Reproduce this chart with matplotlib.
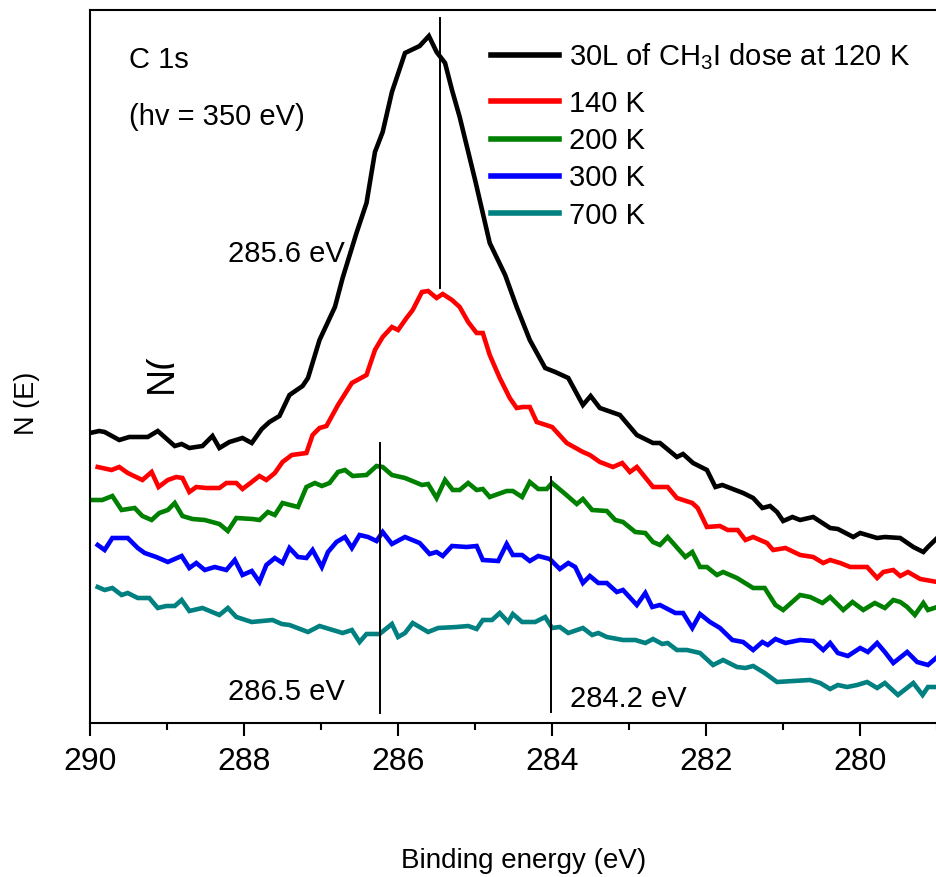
import matplotlib
matplotlib.use("Agg")
import matplotlib.pyplot as plt
from matplotlib.ticker import MultipleLocator
from matplotlib.transforms import Bbox

plt.rcParams['font.family'] = ['Liberation Sans', 'DejaVu Sans']
plt.rcParams['mathtext.fontset'] = 'custom'
plt.rcParams['mathtext.rm'] = 'Liberation Sans'
plt.rcParams['mathtext.it'] = 'Liberation Sans:italic'
plt.rcParams['mathtext.default'] = 'regular'

# ---------------- data (binding energy in eV, intensity in arb. units) -------------
e_120 = [290.00, 289.88, 289.81, 289.62, 289.49, 289.25, 289.12, 288.90, 288.81, 288.71,
         288.54, 288.41, 288.32, 288.19, 288.02, 287.90, 287.77, 287.67, 287.54, 287.41,
         287.24, 287.17, 287.02, 286.82, 286.72, 286.54, 286.41, 286.30, 286.20, 286.08,
         285.91, 285.72, 285.60, 285.50, 285.39, 285.30, 285.20, 285.00, 284.81, 284.61,
         284.46, 284.29, 284.09, 283.96, 283.79, 283.60, 283.50, 283.38, 283.12, 282.90,
         282.69, 282.60, 282.38, 282.30, 282.17, 281.99, 281.88, 281.79, 281.52, 281.39,
         281.27, 281.17, 281.08, 281.00, 280.88, 280.78, 280.61, 280.39, 280.29, 280.09,
         280.00, 279.78, 279.68, 279.48, 279.31, 279.18, 279.12, 279.00]
i_120 = [290, 292, 291, 283, 286, 286, 292, 277, 279, 275,
         277, 287, 275, 281, 285, 280, 294, 301, 307, 328,
         337, 345, 383, 416, 445, 490, 520, 571, 591, 631,
         670, 677, 687, 671, 660, 633, 606, 543, 480, 448,
         416, 383, 355, 351, 345, 318, 327, 315, 308, 288,
         280, 280, 266, 269, 260, 253, 236, 238, 230, 225,
         215, 217, 211, 202, 206, 203, 206, 195, 194, 186,
         190, 185, 186, 185, 176, 171, 176, 185]

e_140 = [289.90, 289.72, 289.62, 289.51, 289.32, 289.20, 289.11, 288.99, 288.88, 288.80,
         288.71, 288.62, 288.49, 288.32, 288.23, 288.10, 288.02, 287.90, 287.80, 287.71,
         287.60, 287.50, 287.38, 287.19, 287.11, 287.02, 286.93, 286.78, 286.60, 286.41,
         286.30, 286.20, 286.08, 286.00, 285.89, 285.81, 285.69, 285.61, 285.50, 285.42,
         285.30, 285.20, 285.09, 284.98, 284.90, 284.81, 284.68, 284.55, 284.46, 284.38,
         284.29, 284.20, 284.00, 283.81, 283.60, 283.51, 283.38, 283.21, 283.09, 282.99,
         282.90, 282.69, 282.50, 282.38, 282.18, 282.11, 281.99, 281.82, 281.72, 281.59,
         281.49, 281.39, 281.21, 281.13, 280.97, 280.78, 280.61, 280.48, 280.39, 280.26,
         280.13, 279.91, 279.78, 279.70, 279.57, 279.48, 279.38, 279.22, 279.00]
i_140 = [256, 253, 256, 250, 243, 251, 236, 243, 246, 245,
         231, 236, 235, 235, 240, 240, 234, 241, 247, 243,
         250, 261, 268, 270, 288, 295, 297, 318, 340, 348,
         373, 386, 396, 393, 405, 413, 431, 432, 425, 429,
         423, 416, 401, 390, 390, 368, 345, 325, 315, 316,
         316, 301, 296, 280, 271, 268, 261, 256, 260, 251,
         256, 236, 236, 225, 220, 215, 196, 197, 193, 193,
         183, 186, 180, 173, 175, 168, 166, 160, 163, 160,
         156, 156, 145, 151, 153, 147, 151, 144, 141]

e_200 = [290.00, 289.84, 289.71, 289.59, 289.42, 289.32, 289.20, 289.10, 288.99, 288.90,
         288.80, 288.67, 288.51, 288.32, 288.21, 288.10, 287.89, 287.80, 287.69, 287.60,
         287.50, 287.30, 287.19, 287.08, 286.99, 286.89, 286.78, 286.69, 286.59, 286.41,
         286.28, 286.20, 286.08, 285.91, 285.69, 285.61, 285.50, 285.39, 285.29, 285.20,
         285.09, 284.98, 284.90, 284.81, 284.59, 284.51, 284.39, 284.29, 284.18, 284.07,
         284.00, 283.83, 283.68, 283.60, 283.48, 283.29, 283.18, 283.08, 282.92, 282.79,
         282.69, 282.60, 282.50, 282.27, 282.18, 282.08, 281.99, 281.86, 281.78, 281.60,
         281.39, 281.24, 281.10, 281.00, 280.78, 280.65, 280.49, 280.39, 280.22, 280.10,
         279.96, 279.81, 279.68, 279.57, 279.48, 279.39, 279.29, 279.18, 279.12, 279.00]
i_200 = [223, 223, 227, 213, 215, 207, 203, 210, 213, 220,
         207, 204, 203, 199, 192, 205, 204, 203, 211, 208,
         220, 216, 236, 240, 237, 240, 251, 253, 247, 248,
         257, 256, 248, 245, 238, 239, 225, 243, 233, 233,
         240, 233, 234, 226, 232, 232, 226, 241, 234, 234,
         240, 229, 219, 224, 213, 212, 203, 201, 191, 190,
         181, 178, 186, 166, 171, 156, 156, 148, 151, 145,
         135, 135, 118, 113, 128, 126, 120, 126, 113, 121,
         113, 120, 115, 123, 121, 116, 108, 120, 113, 116]

e_300 = [289.90, 289.81, 289.71, 289.51, 289.38, 289.29, 289.14, 288.99, 288.81, 288.71,
         288.62, 288.51, 288.38, 288.23, 288.12, 288.02, 287.90, 287.80, 287.71, 287.60,
         287.50, 287.41, 287.30, 287.19, 287.11, 286.99, 286.91, 286.80, 286.69, 286.60,
         286.50, 286.39, 286.28, 286.20, 286.08, 285.91, 285.72, 285.59, 285.50, 285.42,
         285.30, 285.11, 284.98, 284.90, 284.70, 284.59, 284.51, 284.39, 284.29, 284.18,
         284.03, 283.90, 283.79, 283.70, 283.60, 283.51, 283.40, 283.29, 283.16, 283.08,
         282.90, 282.79, 282.70, 282.60, 282.40, 282.30, 282.18, 282.08, 281.95, 281.82,
         281.66, 281.52, 281.39, 281.27, 281.20, 281.10, 280.97, 280.78, 280.61, 280.48,
         280.39, 280.29, 280.16, 280.00, 279.90, 279.78, 279.68, 279.57, 279.39, 279.26,
         279.12, 279.00]
i_300 = [178, 173, 185, 185, 175, 170, 166, 161, 167, 155,
         160, 153, 156, 153, 163, 148, 152, 141, 158, 165,
         160, 175, 166, 165, 173, 156, 171, 181, 186, 175,
         188, 186, 182, 191, 179, 186, 180, 169, 171, 167,
         177, 176, 177, 163, 162, 179, 168, 168, 162, 167,
         164, 154, 160, 156, 140, 147, 140, 140, 131, 133,
         118, 130, 116, 118, 110, 110, 95, 109, 101, 95,
         83, 81, 73, 81, 78, 84, 80, 83, 82, 73,
         80, 70, 67, 75, 71, 80, 71, 60, 71, 61,
         58, 66]

e_700 = [289.90, 289.81, 289.71, 289.59, 289.51, 289.38, 289.23, 289.12, 289.01, 288.90,
         288.81, 288.71, 288.54, 288.32, 288.21, 288.10, 287.90, 287.63, 287.51, 287.41,
         287.17, 287.02, 286.72, 286.60, 286.50, 286.41, 286.24, 286.08, 286.00, 285.91,
         285.81, 285.61, 285.48, 285.24, 285.09, 284.98, 284.90, 284.78, 284.68, 284.57,
         284.51, 284.39, 284.22, 284.09, 284.00, 283.90, 283.79, 283.60, 283.48, 283.40,
         283.29, 283.08, 282.92, 282.79, 282.69, 282.57, 282.50, 282.38, 282.25, 282.08,
         281.91, 281.78, 281.60, 281.49, 281.39, 281.24, 281.08, 280.87, 280.65, 280.52,
         280.39, 280.29, 280.17, 280.04, 279.91, 279.78, 279.68, 279.51, 279.31, 279.19,
         279.12, 279.00]
i_700 = [136, 133, 135, 128, 130, 125, 125, 115, 117, 117,
         123, 112, 115, 108, 115, 106, 101, 103, 99, 98,
         91, 97, 90, 93, 81, 89, 89, 99, 86, 90,
         100, 91, 95, 96, 97, 94, 103, 103, 110, 101,
         109, 101, 101, 106, 95, 96, 90, 95, 88, 90,
         86, 83, 83, 80, 84, 79, 80, 73, 73, 70,
         58, 63, 56, 55, 57, 50, 41, 42, 43, 40,
         34, 38, 36, 38, 41, 35, 40, 28, 40, 28,
         36, 36]

series_labels = ['30L of CH$_3$I dose at 120 K', '140 K', '200 K', '300 K', '700 K']
series_colors = ['#000000', '#ff0000', '#008000', '#0000ff', '#008080']

# marker lines: (energy, ymin, ymax)
marker_e = [285.45, 286.24, 284.02]
marker_lo = [435, 10, 11]
marker_hi = [705, 280, 246]

xtick_vals = [290, 288, 286, 284, 282, 280]

# ---------------- figure --------------------------------------------------
W, H = 937, 877
fig = plt.figure(figsize=(W / 100, H / 100), dpi=100)
ax_left, ax_right, ax_top, ax_bot = 90, 958, 10, 723
ax = fig.add_axes([ax_left / W, 1 - ax_bot / H, (ax_right - ax_left) / W, (ax_bot - ax_top) / H])

xs = [e_120, e_140, e_200, e_300, e_700]
ys = [i_120, i_140, i_200, i_300, i_700]
handles = []
for x, y, c, lab in zip(xs, ys, series_colors, series_labels):
    ln, = ax.plot(x, y, color=c, lw=3.3, label=lab, solid_joinstyle='miter')
    handles.append(ln)

for e, lo, hi in zip(marker_e, marker_lo, marker_hi):
    ax.plot([e, e], [lo, hi], color='black', lw=1.4)

ax.set_xlim(290, 278.73)
ax.set_ylim(0, 713)

for s in ['left', 'top', 'bottom', 'right']:
    ax.spines[s].set_linewidth(1.5)

ax.set_yticks([])
ax.xaxis.set_major_locator(MultipleLocator(2))
ax.xaxis.set_minor_locator(MultipleLocator(1))
ax.tick_params(axis='x', which='major', direction='out', length=9, width=1.5,
               labelsize=23, pad=8, top=False)
ax.tick_params(axis='x', which='minor', direction='out', length=5, width=1.5, top=False)
ax.set_xticks(xtick_vals)
ax.set_xticklabels([str(v) for v in xtick_vals])

ax.set_xlabel('Binding energy (eV)', fontsize=20)
ax.xaxis.label.set_va('baseline')
ax.xaxis.set_label_coords(0.5, (ax_bot - 868) / (ax_bot - ax_top))
ax.set_ylabel('N (E)', fontsize=19.5)
ax.yaxis.label.set_va('center')
ax.yaxis.label.set_ha('center')
ax.yaxis.set_label_coords((27 - ax_left) / (ax_right - ax_left), (ax_bot - 403) / (ax_bot - ax_top))

# annotations
fs = 21
ax.text(289.50, 655, 'C 1s', fontsize=fs, ha='left', va='baseline')
ax.text(289.50, 598, '(hv = 350 eV)', fontsize=fs, ha='left', va='baseline')
ax.text(288.21, 461, '285.6 eV', fontsize=fs, ha='left', va='baseline')
ax.text(288.21, 23, '286.5 eV', fontsize=fs, ha='left', va='baseline')
ax.text(283.77, 16, '284.2 eV', fontsize=fs, ha='left', va='baseline')
stray = ax.text(288.94, 330, 'N(', fontsize=27, rotation=90, rotation_mode='anchor',
                ha='left', va='baseline')
stray.set_clip_box(Bbox([[140, H - 400], [173.5, H - 345]]))
stray.set_clip_on(True)

leg_kw = dict(bbox_transform=fig.transFigure, frameon=False, fontsize=fs,
              handlelength=2.33, handletextpad=0.34, borderpad=0, borderaxespad=0)
leg1 = ax.legend(handles=handles[:1], loc='center left',
                 bbox_to_anchor=(491 / W, 1 - 57 / H), **leg_kw)
for h in leg1.get_lines():
    h.set_linewidth(4)
ax.add_artist(leg1)
leg2 = ax.legend(handles=handles[1:], loc='center left',
                 bbox_to_anchor=(491 / W, 1 - 159.5 / H), labelspacing=0.32, **leg_kw)
for h in leg2.get_lines():
    h.set_linewidth(4)

fig.savefig('out.png', dpi=100)
